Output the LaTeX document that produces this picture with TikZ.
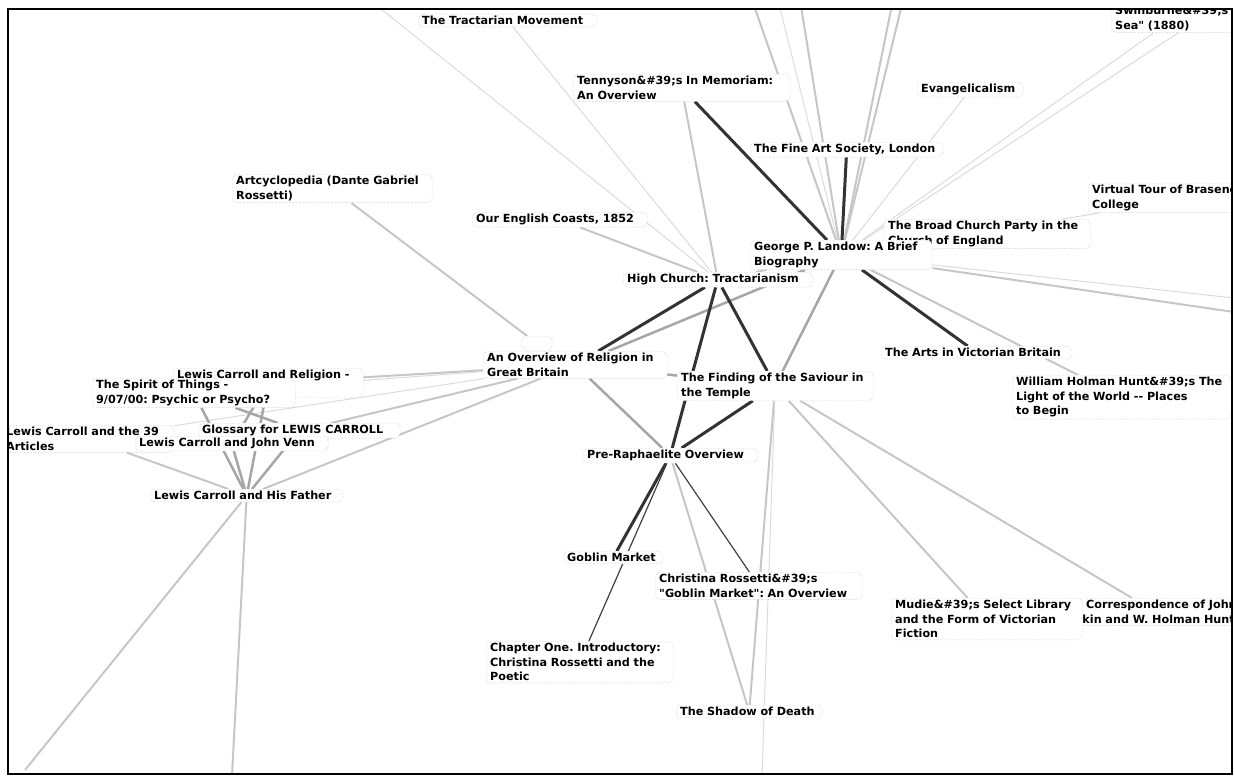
\documentclass[tikz,border=0pt]{standalone}
\usepackage{fontspec}
\setmainfont{DejaVu Sans}[Ligatures=TeXOff]
\usetikzlibrary{backgrounds}
\frenchspacing

\tikzset{
  topic/.style={draw=gray!60, densely dotted, rounded corners=5pt, fill=white,
    anchor=north west, align=left, inner xsep=4pt, inner ysep=2pt,
    font=\fontsize{11.2}{14.5}\selectfont\bfseries},
  faint/.style={draw=gray!28, line width=1pt},
  light/.style={draw=gray!45, line width=2pt},
  mid/.style={draw=gray!70, line width=2.5pt},
  dark/.style={draw=black!80, line width=3pt},
  thin/.style={draw=black!75, line width=1.2pt}
}

\begin{document}
\begin{tikzpicture}[x=1pt,y=-1pt]
  \useasboundingbox (0,0) rectangle (1234,776);
  \begin{scope}
    \clip (8,9) rectangle (1232,774);
    \node[topic,text width=171pt] (tract) at (418,14) {The Tractarian Movement};
    \node[topic,text width=209pt] (tenny) at (573,74) {Tennyson\&\#39;s In Memoriam:\\An Overview};
    \node[topic,text width=98pt] (evang) at (917,82) {Evangelicalism};
    \node[topic,text width=117pt] (swin) at (1111,4) {Swinburne\&\#39;s\\Sea" (1880)};
    \node[topic,text width=185pt] (fineart) at (750,142) {The Fine Art Society, London};
    \node[topic,text width=192pt] (artcy) at (232,174) {Artcyclopedia (Dante Gabriel\\Rossetti)};
    \node[topic,text width=200pt] (virtual) at (1088,183) {Virtual Tour of Brasenose\\College};
    \node[topic,text width=167pt] (coasts) at (472,212) {Our English Coasts, 1852};
    \node[topic,text width=198pt] (broad) at (884,219) {The Broad Church Party in the\\Church of England};
    \node[topic,text width=174pt] (landow) at (750,240) {George P. Landow: A Brief\\Biography};
    \node[topic,text width=181pt] (highch) at (623,272) {High Church: Tractarianism};
    \node[topic,minimum width=31pt,minimum height=14pt,inner sep=0pt] (smallbox) at (521,336) {};
    \node[topic,text width=176pt] (overview) at (483,351) {An Overview of Religion in\\Great Britain};
    \node[topic,text width=188pt] (finding) at (677,371) {The Finding of the Saviour in\\the Temple};
    \node[topic,text width=183pt] (arts) at (881,346) {The Arts in Victorian Britain};
    \node[topic,text width=211pt] (hunt) at (1012,375) {William Holman Hunt\&\#39;s The\\Light of the World -- Places\\to Begin};
    \node[topic,text width=182pt,text depth=17pt] (religion) at (173,368) {Lewis Carroll and Religion -};
    \node[topic,text width=195pt] (spirit) at (92,378) {The Spirit of Things -\\9/07/00: Psychic or Psycho?};
    \node[topic,text width=164pt] (articles) at (2,425) {Lewis Carroll and the 39\\Articles};
    \node[topic,text width=194pt] (gloss) at (198,423) {Glossary for LEWIS CARROLL};
    \node[topic,text width=185pt] (venn) at (135,436) {Lewis Carroll and John Venn};
    \node[topic,text width=185pt] (father) at (150,489) {Lewis Carroll and His Father};
    \node[topic,text width=166pt] (prera) at (583,448) {Pre-Raphaelite Overview};
    \node[topic,text width=92pt] (goblin) at (563,551) {Goblin Market};
    \node[topic,text width=199pt] (christina) at (655,572) {Christina Rossetti\&\#39;s\\"Goblin Market": An Overview};
    \node[topic,text width=179pt] (chapter) at (486,641) {Chapter One. Introductory:\\Christina Rossetti and the\\Poetic};
    \node[topic,text width=138pt] (shadow) at (676,705) {The Shadow of Death};
    \node[topic,text width=192pt] (corresp) at (1055,598) {The Correspondence of John\\Ruskin and W. Holman Hunt};
    \node[topic,text width=183pt] (mudie) at (891,598) {Mudie\&\#39;s Select Library\\and the Form of Victorian\\Fiction};
  \end{scope}

  \coordinate (t1) at (752,0);
  \coordinate (t2) at (778,0);
  \coordinate (t3) at (800,0);
  \coordinate (t4) at (893,0);
  \coordinate (t5) at (903,0);
  \coordinate (t6) at (1228,0);
  \coordinate (tl) at (370,0);
  \coordinate (r1) at (1234,312);
  \coordinate (r2) at (1234,298);
  \coordinate (b1) at (232,776);
  \coordinate (b2) at (25,770);
  \coordinate (b3) at (762,776);

  \begin{scope}[on background layer]
    \clip (8,9) rectangle (1232,774);
    \draw[faint] (tl) -- (highch);
    \draw[faint] (tract) -- (highch);
    \draw[light] (tenny) -- (highch);
    \draw[light] (coasts) -- (highch);
    \draw[light] (artcy) -- (smallbox);
    \draw[faint] (smallbox) -- (overview);
    \draw[light] (t1) -- (landow);
    \draw[faint] (t2) -- (landow);
    \draw[light] (t3) -- (landow);
    \draw[light] (t4) -- (landow);
    \draw[light] (t5) -- (landow);
    \draw[faint] (t6) -- (landow);
    \draw[dark] (tenny) -- (landow);
    \draw[dark] (fineart) -- (landow);
    \draw[faint] (evang) -- (landow);
    \draw[faint] (swin) -- (landow);
    \draw[faint] (virtual) -- (landow);
    \draw[faint] (broad) -- (landow);
    \draw[light] (landow) -- (r1);
    \draw[faint] (landow) -- (r2);
    \draw[dark] (landow) -- (arts);
    \draw[light] (landow) -- (hunt);
    \draw[mid] (landow) -- (finding);
    \draw[light] (landow) -- (highch);
    \draw[mid] (overview) -- (landow);
    \draw[dark] (overview) -- (highch);
    \draw[dark] (highch) -- (finding);
    \draw[dark] (highch) -- (prera);
    \draw[mid] (overview) -- (finding);
    \draw[mid] (overview) -- (prera);
    \draw[dark] (finding) -- (prera);
    \draw[dark] (prera) -- (goblin);
    \draw[thin] (prera) -- (christina);
    \draw[thin] (prera) -- (chapter);
    \draw[light] (prera) -- (shadow);
    \draw[light] (finding) -- (shadow);
    \draw[faint] (finding) -- (b3);
    \draw[light] (finding) -- (mudie);
    \draw[light] (finding) -- (corresp);
    \draw[light] (overview) -- (religion);
    \draw[faint] (overview) -- (spirit);
    \draw[light] (overview) -- (gloss);
    \draw[light] (overview) -- (father);
    \draw[faint] (articles) -- (overview);
    \draw[light] (articles) -- (father);
    \draw[mid] (father) -- (gloss);
    \draw[mid] (father) -- (venn);
    \draw[mid] (father) -- (religion);
    \draw[mid] (father) -- (spirit);
    \draw[mid] (spirit) -- (gloss);
    \draw[mid] (religion) -- (venn);
    \draw[light] (father) -- (b1);
    \draw[light] (father) -- (b2);
  \end{scope}

  \draw[line width=1.2pt] (8,9) rectangle (1232,774);
\end{tikzpicture}
\end{document}
